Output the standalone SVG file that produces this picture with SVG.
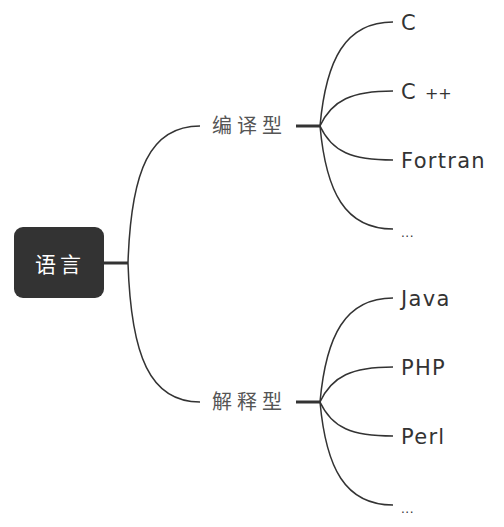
<svg xmlns="http://www.w3.org/2000/svg" width="504" height="527" viewBox="0 0 504 527">
<style>
.c{fill:none;stroke:#333;stroke-width:1.5}
.t{stroke:#333;stroke-width:3;fill:none}
.lat{font-family:"DejaVu Sans","Liberation Sans",sans-serif;font-size:21px;fill:#333;letter-spacing:1.3px}
.dot{font-family:"DejaVu Sans","Liberation Sans",sans-serif;font-size:12px;fill:#333;letter-spacing:0.5px}
.zh{font-family:"Noto Sans CJK SC",sans-serif;font-size:20px;fill:#555;letter-spacing:5px}
</style>
<rect width="504" height="527" fill="#fff"/>
<g id="connectors">
<path class="t" d="M104,263 H128"/>
<path class="c" d="M128,263 C131,170 150,126 200,126"/>
<path class="c" d="M128,263 C131,356 150,402 200,402"/>
<path class="t" d="M296,126 H320"/>
<path class="t" d="M296,402 H320"/>
<path class="c" d="M320,126 C326,60 345,22 393,22"/>
<path class="c" d="M320,126 C332,100 352,91 393,91"/>
<path class="c" d="M320,126 C332,152 352,160 393,160"/>
<path class="c" d="M320,126 C326,192 345,229 393,229"/>
<path class="c" d="M320,402 C326,336 345,298 393,298"/>
<path class="c" d="M320,402 C332,376 352,367 393,367"/>
<path class="c" d="M320,402 C332,428 352,436 393,436"/>
<path class="c" d="M320,402 C326,468 345,505 393,505"/>
</g>
<g id="root">
<rect x="14" y="227" width="90" height="71" rx="9" fill="#333"/>
<text x="60" y="272" text-anchor="middle" font-family="Noto Sans CJK SC,sans-serif" font-size="21" fill="#fff" letter-spacing="4">语言</text>
</g>
<g id="compiled"><text class="zh" x="212" y="133">编译型</text></g>
<g id="interpreted"><text class="zh" x="212" y="409">解释型</text></g>
<g id="c"><text class="lat" x="401" y="30">C</text></g>
<g id="cpp"><text class="lat" x="401" y="99">C <tspan font-size="16" letter-spacing="0">++</tspan></text></g>
<g id="fortran"><text class="lat" x="401" y="168">Fortran</text></g>
<g id="etc1"><text class="dot" x="401" y="237">...</text></g>
<g id="java"><text class="lat" x="401" y="306">Java</text></g>
<g id="php"><text class="lat" x="401" y="375">PHP</text></g>
<g id="perl"><text class="lat" x="401" y="444">Perl</text></g>
<g id="etc2"><text class="dot" x="401" y="513">...</text></g>
</svg>
